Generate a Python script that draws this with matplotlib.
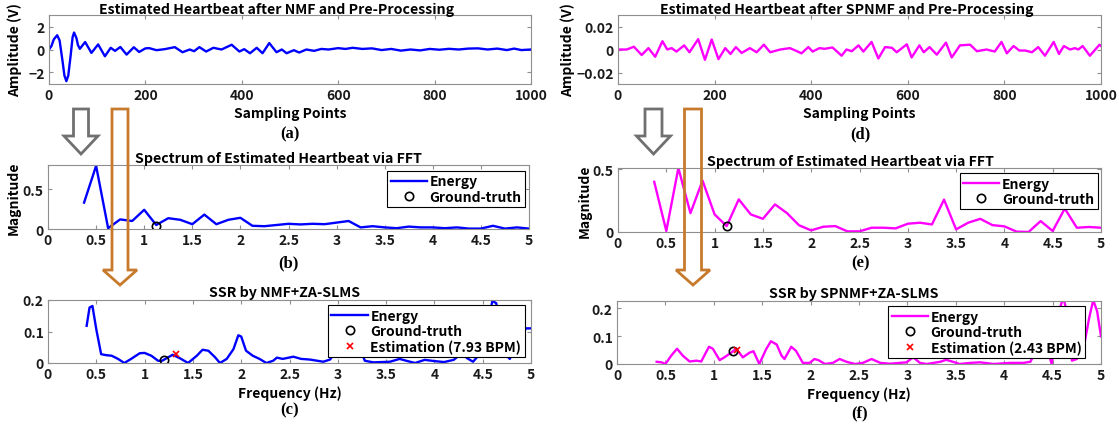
import numpy as np
import matplotlib
matplotlib.use("Agg")
import matplotlib.pyplot as plt
from matplotlib.patches import Polygon
from matplotlib.lines import Line2D
from matplotlib.ticker import FuncFormatter

# --- (a) estimated heartbeat after NMF (extrema)
nmf_t = [0, 5, 10, 17, 22, 28, 32, 36, 40, 45, 49, 52, 57, 60, 64, 75, 88, 102, 116,
         128, 137, 148, 161, 176, 187, 200, 208, 223, 240, 261, 277, 292, 301, 312,
         326, 341, 358, 379, 395, 405, 417, 431, 443, 457, 472, 483, 493, 508, 519,
         534, 550, 565, 580, 600, 615, 630, 650, 670, 690, 710, 730, 750, 770, 790,
         810, 830, 850, 870, 890, 910, 930, 950, 965, 980, 1000]
nmf_amp = [0, 0.3, 0.9, 1.26, 0.8, -1.0, -2.3, -2.8, -2.3, -0.5, 1.1, 1.5, 1.0, 0.4,
           0.06, 0.66, -0.3, 0.45, -0.6, 0.15, -0.12, 0.22, -0.45, 0.2, -0.22, 0.1,
           0.12, -0.06, 0.03, 0.21, -0.24, 0, -0.15, 0.21, -0.18, 0.15, 0, 0.42,
           -0.18, 0.03, -0.33, 0.15, -0.33, 0.57, -0.24, 0, -0.33, -0.06, -0.27, 0,
           -0.12, 0.05, 0, 0.12, 0.05, 0.15, 0.05, 0.1, -0.05, 0.05, -0.1, 0, -0.08,
           0.05, -0.02, 0.06, 0, 0.08, 0.1, 0, 0.08, -0.05, 0.08, -0.05, 0]

# --- (d) estimated heartbeat after SPNMF
sp_t = [0, 18, 33, 49, 63, 77, 92, 102, 111, 121, 137, 148, 166, 180, 194, 208, 222,
        233, 244, 256, 273, 287, 302, 315, 336, 356, 380, 394, 403, 417, 428, 444,
        463, 473, 484, 498, 508, 525, 539, 553, 567, 577, 598, 608, 624, 633, 645,
        660, 679, 691, 708, 729, 743, 763, 780, 794, 805, 819, 831, 843, 857, 870,
        884, 902, 913, 923, 936, 946, 953, 962, 977, 997, 1000]
sp_amp = [0, 0, 2.4, -4.8, 1.2, -6.3, 7.2, 0, 1.2, -1.8, 3.6, -2.4, 9.0, -9.0, 8.7,
          -8.4, 1.2, -3.9, 2.1, -3.0, 1.2, -2.4, 4.2, -2.4, 0, 1.2, -3.3, 2.1, -1.8,
          1.2, 0.6, 1.8, -5.4, 0, -1.5, 3.6, -1.8, 6.6, -7.8, 2.1, 1.5, -2.4, 4.5,
          -6.9, 3.6, -2.4, 2.1, -4.5, 6.0, -6.9, 3.6, 4.2, -1.5, 0, -1.8, 6.6, -3.3,
          3.0, -0.9, -0.9, -2.4, 2.1, -5.4, 6.6, -3.9, 3.0, 0, 1.2, 0, 3.0, -5.4,
          4.2, 3.0]  # x 1e-3 V

# --- (b)/(e) FFT spectra
fft_freq = [0.375, 0.5, 0.625, 0.75, 0.875, 1.0, 1.125, 1.25, 1.375, 1.5, 1.625,
            1.75, 1.875, 2.0, 2.125, 2.25, 2.375, 2.5, 2.625, 2.75, 2.875, 3.0,
            3.125, 3.25, 3.375, 3.5, 3.625, 3.75, 3.875, 4.0, 4.125, 4.25, 4.375,
            4.5, 4.625, 4.75, 4.875, 5.0]
nmf_fft = [0.33, 0.79, 0.01, 0.12, 0.10, 0.24, 0.05, 0.135, 0.115, 0.06, 0.18, 0.06,
           0.115, 0.14, 0.04, 0.035, 0.05, 0.065, 0.057, 0.065, 0.06, 0.08, 0.10,
           0.02, 0.035, 0.02, 0.01, 0.03, 0.02, 0.02, 0.01, 0.02, 0.005, 0.005, 0.04,
           0.005, 0.02, 0.005]
sp_fft = [0.40, 0.008, 0.51, 0.15, 0.41, 0.14, 0.047, 0.26, 0.14, 0.105, 0.22, 0.15,
          0.053, 0.013, 0.042, 0.047, 0.005, 0.005, 0.034, 0.034, 0.029, 0.066,
          0.074, 0.06, 0.258, 0.021, 0.074, 0.105, 0.055, 0.045, 0.003, 0.0, 0.087,
          0.008, 0.187, 0.034, 0.04, 0.034]

# --- (c) SSR by NMF+ZA-SLMS
ssr_nmf_f = [0.40, 0.43, 0.46, 0.50, 0.55, 0.60, 0.66, 0.725, 0.79, 0.86, 0.95, 1.0,
             1.07, 1.14, 1.18, 1.29, 1.36, 1.45, 1.54, 1.6, 1.66, 1.73, 1.78, 1.85,
             1.92, 1.97, 2.0, 2.05, 2.12, 2.19, 2.26, 2.33, 2.37, 2.43, 2.54, 2.62,
             2.71, 2.85, 2.92, 2.97, 3.02, 3.1, 3.18, 3.25, 3.28, 3.37, 3.54, 3.64,
             3.71, 3.8, 3.9, 4.0, 4.1, 4.2, 4.28, 4.34, 4.4, 4.5, 4.55, 4.6, 4.64,
             4.7, 4.75, 4.78, 4.84, 4.89, 4.95, 5.0]
ssr_nmf = [0.118, 0.176, 0.181, 0.107, 0.028, 0.025, 0.023, 0.013, 0.0, 0.013, 0.031,
           0.032, 0.023, 0.007, 0.007, 0.026, 0.016, 0.0, 0.023, 0.042, 0.039, 0.018,
           0.0, 0.013, 0.044, 0.088, 0.084, 0.039, 0.023, 0.013, 0.0, 0.007, 0.017,
           0.013, 0.02, 0.013, 0.011, 0.004, 0.011, 0.034, 0.06, 0.1, 0.09, 0.03,
           0.007, 0.002, 0.004, 0.013, 0.007, 0.0, 0.01, 0.006, 0.003, 0.01, 0.03,
           0.015, 0.004, 0.039, 0.12, 0.197, 0.19, 0.09, 0.023, 0.013, 0.05, 0.086,
           0.11, 0.11]

# --- (f) SSR by SPNMF+ZA-SLMS
ssr_sp_f = [0.41, 0.46, 0.50, 0.56, 0.62, 0.68, 0.75, 0.82, 0.87, 0.95, 0.99, 1.06,
            1.11, 1.18, 1.23, 1.30, 1.37, 1.41, 1.47, 1.54, 1.59, 1.65, 1.70, 1.73,
            1.80, 1.85, 1.92, 1.99, 2.04, 2.08, 2.15, 2.23, 2.30, 2.37, 2.46, 2.54,
            2.63, 2.72, 2.82, 2.92, 2.99, 3.06, 3.13, 3.20, 3.27, 3.34, 3.40, 3.47,
            3.54, 3.65, 3.75, 3.89, 4.06, 4.20, 4.27, 4.32, 4.40, 4.45, 4.49, 4.54,
            4.58, 4.61, 4.66, 4.70, 4.75, 4.83, 4.88, 4.92, 4.96, 5.0]
ssr_sp = [0.008, 0.006, 0.0, 0.03, 0.055, 0.03, 0.009, 0.012, 0.009, 0.062, 0.055,
          0.014, 0.024, 0.041, 0.055, 0.024, 0.041, 0.046, 0.0, 0.053, 0.082, 0.07,
          0.03, 0.018, 0.062, 0.047, 0.004, 0.004, 0.018, 0.014, 0.0, 0.004, 0.018,
          0.008, 0.0, 0.004, 0.018, 0.004, 0.001, 0.004, 0.006, 0.024, 0.004, 0.0,
          0.004, 0.008, 0.015, 0.008, 0.0, 0.004, 0.006, 0.0, 0.004, 0.004, 0.008,
          0.041, 0.12, 0.05, 0.0, 0.1, 0.206, 0.24, 0.17, 0.012, 0.018, 0.076, 0.17,
          0.23, 0.19, 0.1]

gt_fft_nmf = (1.125, 0.04)
gt_fft_sp = (1.125, 0.045)
gt_ssr_nmf = (1.2, 0.01)
est_ssr_nmf = (1.32, 0.027)
gt_ssr_sp = (1.2, 0.047)
est_ssr_sp = (1.235, 0.05)

plt.rcParams['font.family'] = ['Noto Sans CJK JP', 'DejaVu Sans']
plt.rcParams['font.weight'] = 'bold'
plt.rcParams['axes.titleweight'] = 'bold'
plt.rcParams['axes.labelweight'] = 'bold'
plt.rcParams['font.size'] = 10

W, H = 1119, 427
fig = plt.figure(figsize=(W / 100, H / 100), dpi=100)


def box(x0, y0, x1, y1):
    return [x0 / W, 1 - y1 / H, (x1 - x0) / W, (y1 - y0) / H]


def fmt(v, pos):
    return ("%g" % v).replace("-", "\u2212")


def style(ax, xlim, ylim, xticks, yticks):
    ax.set_xlim(*xlim)
    ax.set_ylim(*ylim)
    ax.set_xticks(xticks)
    ax.set_yticks(yticks)
    ax.xaxis.set_major_formatter(FuncFormatter(fmt))
    ax.yaxis.set_major_formatter(FuncFormatter(fmt))
    for s in ax.spines.values():
        s.set_color("#8f8f8f")
        s.set_linewidth(0.8)
    ax.tick_params(direction="in", top=True, right=True, length=3, width=0.8,
                   color="#8f8f8f", labelcolor="#1a1a1a", pad=3, labelsize=10)
    for t in ax.get_xticklabels() + ax.get_yticklabels():
        t.set_fontweight("bold")


blue = "#0000ff"
mag = "#ff00ff"
lw = 1.7
tsize = 10.2

ax_a = fig.add_axes(box(49, 16, 531, 85))
ax_b = fig.add_axes(box(48, 166, 529, 230))
ax_c = fig.add_axes(box(48, 301, 531, 364))
ax_d = fig.add_axes(box(618, 16, 1101, 85))
ax_e = fig.add_axes(box(618, 169, 1101, 233))
ax_f = fig.add_axes(box(617, 302, 1101, 365))

freq_ticks = [0, 0.5, 1, 1.5, 2, 2.5, 3, 3.5, 4, 4.5, 5]

# (a)
ax_a.plot(nmf_t, nmf_amp, color=blue, lw=lw, solid_joinstyle="round")
style(ax_a, (0, 1000), (-3.05, 3.05), [0, 200, 400, 600, 800, 1000], [-2, 0, 2])
ax_a.set_title("Estimated Heartbeat after NMF and Pre-Processing", fontsize=tsize,
               pad=1.5, x=0.473)
ax_a.set_xlabel("Sampling Points", labelpad=3)
ax_a.set_ylabel("Amplitude (V)")
ax_a.yaxis.set_label_coords(-0.056, 0.5)

# (d)
ax_d.plot(sp_t, np.array(sp_amp) * 1e-3, color=mag, lw=lw, solid_joinstyle="round")
style(ax_d, (0, 1000), (-0.03, 0.03), [0, 200, 400, 600, 800, 1000], [-0.02, 0, 0.02])
ax_d.set_title("Estimated Heartbeat after SPNMF and Pre-Processing", fontsize=tsize,
               pad=1.5, x=0.474)
ax_d.set_xlabel("Sampling Points", labelpad=3)
ax_d.set_ylabel("Amplitude (V)")
ax_d.yaxis.set_label_coords(-0.089, 0.5)


def legend(ax, color, labels, anchor):
    hs = [Line2D([], [], color=color, lw=lw),
          Line2D([], [], ls="none", marker="o", mfc="none", mec="black", ms=6, mew=1.2),
          Line2D([], [], ls="none", marker="x", color="red", ms=5, mew=1.2)]
    leg = ax.legend(hs[:len(labels)], labels, loc="upper right", bbox_to_anchor=anchor,
                    borderaxespad=0, fancybox=False, framealpha=1, edgecolor="black",
                    handlelength=2.6, handletextpad=0.2, borderpad=0.25,
                    labelspacing=0.1, prop={"size": 10, "weight": "bold"})
    leg.get_frame().set_linewidth(0.8)


# (b)
ax_b.plot(fft_freq, nmf_fft, color=blue, lw=lw)
ax_b.plot(*gt_fft_nmf, ls="none", marker="o", mfc="none", mec="black", ms=6, mew=1.2)
style(ax_b, (0, 5), (0, 0.8), freq_ticks, [0, 0.5])
ax_b.set_title("Spectrum of Estimated Heartbeat via FFT", fontsize=tsize, pad=2.5, x=0.48)
ax_b.set_ylabel("Magnitude")
ax_b.yaxis.set_label_coords(-0.056, 0.5)
legend(ax_b, blue, ["Energy", "Ground-truth"], (0.992, 0.906))

# (e)
ax_e.plot(fft_freq, sp_fft, color=mag, lw=lw)
ax_e.plot(*gt_fft_sp, ls="none", marker="o", mfc="none", mec="black", ms=6, mew=1.2)
style(ax_e, (0, 5), (0, 0.51), freq_ticks, [0, 0.5])
ax_e.set_title("Spectrum of Estimated Heartbeat via FFT", fontsize=tsize, pad=2.5, x=0.481)
ax_e.set_ylabel("Magnitude")
ax_e.yaxis.set_label_coords(-0.054, 0.5)
legend(ax_e, mag, ["Energy", "Ground-truth"], (0.993, 0.92))

# (c)
ax_c.plot(ssr_nmf_f, ssr_nmf, color=blue, lw=lw)
ax_c.plot(*gt_ssr_nmf, ls="none", marker="o", mfc="none", mec="black", ms=6, mew=1.2)
ax_c.plot(*est_ssr_nmf, ls="none", marker="x", color="red", ms=5, mew=1.2)
style(ax_c, (0, 5), (0, 0.2), freq_ticks, [0, 0.1, 0.2])
ax_c.set_title("SSR by NMF+ZA-SLMS", fontsize=tsize, pad=3, x=0.49)
ax_c.set_xlabel("Frequency (Hz)", labelpad=3)
legend(ax_c, blue, ["Energy", "Ground-truth", "Estimation (7.93 BPM)"], (0.987, 0.92))

# (f)
ax_f.plot(ssr_sp_f, ssr_sp, color=mag, lw=lw)
ax_f.plot(*gt_ssr_sp, ls="none", marker="o", mfc="none", mec="black", ms=6, mew=1.2)
ax_f.plot(*est_ssr_sp, ls="none", marker="x", color="red", ms=5, mew=1.2)
style(ax_f, (0, 5), (0, 0.227), freq_ticks, [0, 0.1, 0.2])
ax_f.set_title("SSR by SPNMF+ZA-SLMS", fontsize=tsize, pad=3, x=0.49)
ax_f.set_xlabel("Frequency (Hz)", labelpad=3)
legend(ax_f, mag, ["Energy", "Ground-truth", "Estimation (2.43 BPM)"], (0.967, 0.92))

# panel letters
for lab, cx, cy in [("(a)", 290, 134), ("(b)", 288, 263), ("(c)", 290, 410),
                    ("(d)", 860, 134), ("(e)", 860, 263), ("(f)", 860, 413)]:
    fig.text(cx / W, 1 - cy / H, lab, ha="center", va="center", fontsize=12,
             family="Liberation Serif", weight="bold")


# hollow block arrows pointing down
def down_arrow(cx, shaft_w, head_w, top, head_y, tip_y, color):
    pts = [(cx - shaft_w / 2, top), (cx + shaft_w / 2, top), (cx + shaft_w / 2, head_y),
           (cx + head_w / 2, head_y), (cx, tip_y), (cx - head_w / 2, head_y),
           (cx - shaft_w / 2, head_y)]
    pts = [(x / W, 1 - y / H) for x, y in pts]
    fig.add_artist(Polygon(pts, closed=True, fill=False, edgecolor=color, lw=2,
                           transform=fig.transFigure, zorder=10))


gray = "#707070"
orange = "#c87a2c"
down_arrow(81, 15, 34, 110, 137, 155, gray)
down_arrow(120, 16, 34, 110, 271, 286, orange)
down_arrow(653.5, 17, 34, 110, 137, 155, gray)
down_arrow(693, 17, 34, 110, 271, 286, orange)

fig.savefig("out.png", dpi=100)
